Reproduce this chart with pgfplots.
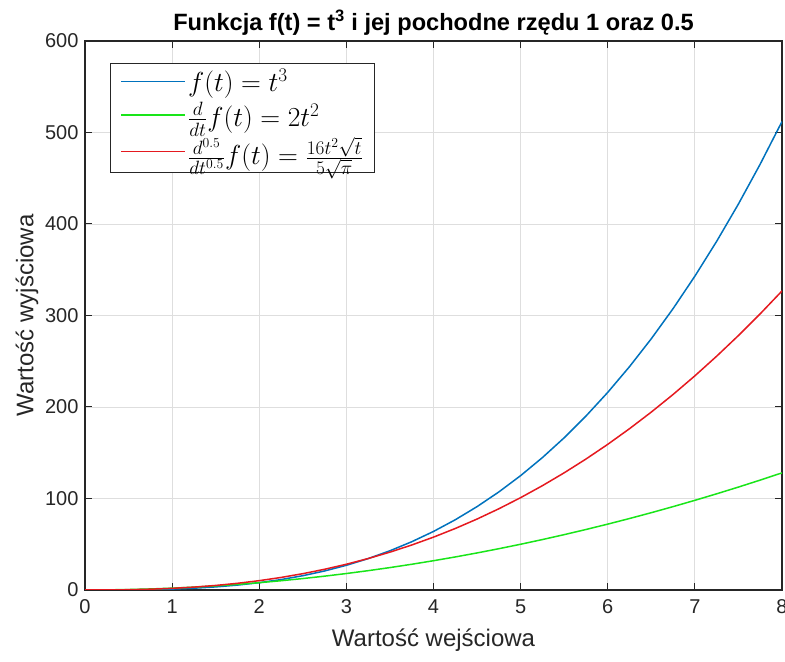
\RequirePackage{fix-cm}
\documentclass[border=0pt]{standalone}
\usepackage{graphicx}
\usepackage{pgfplots}
\pgfplotsset{compat=1.18}
\usepackage{fontspec}
\setmainfont{Liberation Sans}
\definecolor{mblue}{rgb}{0,0.447,0.741}
\definecolor{mgreen}{rgb}{0.1,0.9,0.1}
\definecolor{mred}{rgb}{0.9,0.1,0.12}
\definecolor{axgray}{rgb}{0.15,0.15,0.15}
\newcommand{\legsc}[1]{\scalebox{1.1}{#1}}
\begin{document}
\begin{tikzpicture}
\begin{axis}[
  at={(0pt,0pt)}, anchor=south west,
  scale only axis,
  width=697pt, height=549pt,
  xmin=0, xmax=8, ymin=0, ymax=600,
  xtick={0,1,...,8}, ytick={0,100,...,600},
  grid=major,
  major grid style={draw=black!13, line width=0.8pt},
  axis line style={draw=axgray, line width=1.1pt},
  tick style={draw=axgray, line width=1pt},
  major tick length=7pt,
  tick align=inside,
  xtick pos=both, ytick pos=both,
  /pgf/number format/assume math mode=true,
  tick label style={font=\fontsize{20}{23}\selectfont, text=axgray},
  xticklabel style={yshift=-6pt},
  yticklabel style={xshift=-3pt},
  xlabel={Wartość wejściowa},
  ylabel={Wartość wyjściowa},
  label style={font=\fontsize{24}{27}\selectfont, text=axgray},
  xlabel style={yshift=-8pt},
  ylabel style={yshift=0pt},
  title={\textbf{Funkcja f(t) = t\textsuperscript{3} i jej pochodne rzędu 1 oraz 0.5}},
  title style={font=\fontsize{23.6}{26}\selectfont, yshift=-4pt},
  legend style={at={(0.0359,0.96)}, anchor=north west, draw=axgray, line width=1pt,
    font=\fontsize{25}{29}\selectfont, row sep=5pt, inner xsep=10pt, inner ysep=4pt},
  legend cell align=left,
  every axis plot/.append style={line width=1.5pt},
]
\addplot[mblue, legend image code/.code={\draw[draw=mblue, line width=1.6pt] (0pt,0pt) -- (64pt,0pt);}] coordinates {
(0,0) (0.25,0.015625) (0.5,0.125) (0.75,0.421875) (1,1) (1.25,1.953125) (1.5,3.375) (1.75,5.359375)
(2,8) (2.25,11.390625) (2.5,15.625) (2.75,20.796875) (3,27) (3.25,34.328125) (3.5,42.875) (3.75,52.734375)
(4,64) (4.25,76.765625) (4.5,91.125) (4.75,107.171875) (5,125) (5.25,144.703125) (5.5,166.375) (5.75,190.109375)
(6,216) (6.25,244.140625) (6.5,274.625) (6.75,307.546875) (7,343) (7.25,381.078125) (7.5,421.875) (7.75,465.484375) (8,512)
};
\addlegendentry{\legsc{$f(t) = t^3$}}
\addplot[mgreen, legend image code/.code={\draw[draw=mgreen, line width=1.6pt] (0pt,0pt) -- (64pt,0pt);}] coordinates {
(0,0) (0.25,0.125) (0.5,0.5) (0.75,1.125) (1,2) (1.25,3.125) (1.5,4.5) (1.75,6.125)
(2,8) (2.25,10.125) (2.5,12.5) (2.75,15.125) (3,18) (3.25,21.125) (3.5,24.5) (3.75,28.125)
(4,32) (4.25,36.125) (4.5,40.5) (4.75,45.125) (5,50) (5.25,55.125) (5.5,60.5) (5.75,66.125)
(6,72) (6.25,78.125) (6.5,84.5) (6.75,91.125) (7,98) (7.25,105.125) (7.5,112.5) (7.75,120.125) (8,128)
};
\addlegendentry{\legsc{$\frac{d}{dt}f(t) = 2t^2$}}
\addplot[mred, legend image code/.code={\draw[draw=mred, line width=1.6pt] (0pt,0pt) -- (64pt,0pt);}] coordinates {
(0,0) (0.25,0.0564) (0.5,0.3191) (0.75,0.8795) (1,1.8054) (1.25,3.1539) (1.5,4.9751) (1.75,7.3143)
(2,10.2129) (2.25,13.7098) (2.5,17.8413) (2.75,22.6416) (3,28.1436) (3.25,34.3774) (3.5,41.3757) (3.75,49.1648)
(4,57.7730) (4.25,67.2273) (4.5,77.5540) (4.75,88.7786) (5,100.9246) (5.25,114.0173) (5.5,128.0796) (5.75,143.1340)
(6,159.2037) (6.25,176.3093) (6.5,194.4728) (6.75,213.7149) (7,234.0563) (7.25,255.5170) (7.5,278.1172) (7.75,301.8761) (8,326.8152)
};
\addlegendentry{\legsc{$\frac{d^{0.5}}{dt^{0.5}}f(t) = \frac{16t^2\sqrt{t}}{5\sqrt{\pi}}$}}
\end{axis}
\pgfresetboundingbox
\path[use as bounding box] ([shift={(-85pt,-72pt)}]current axis.south west) rectangle ([shift={(3pt,41pt)}]current axis.north east);
\end{tikzpicture}
\end{document}
